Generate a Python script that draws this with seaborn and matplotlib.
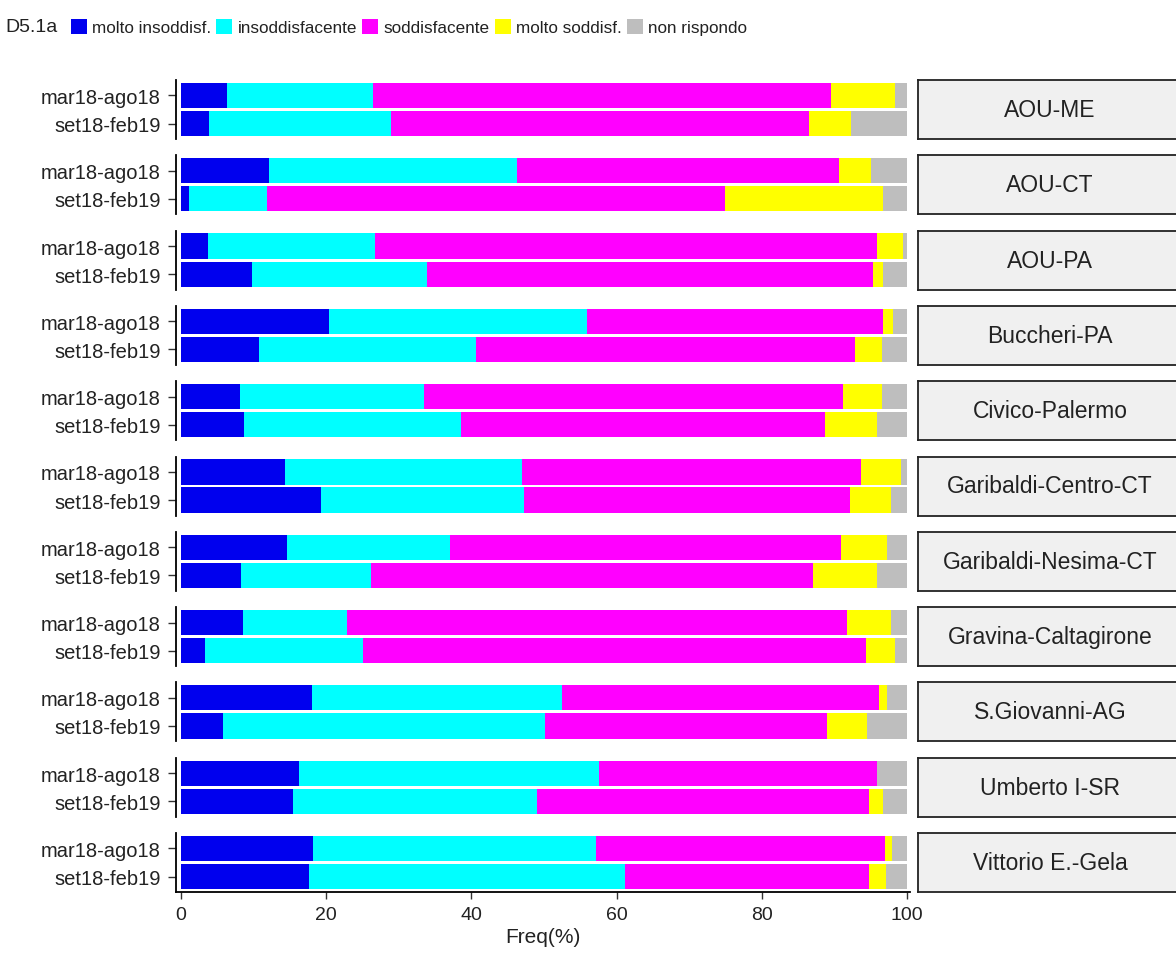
import numpy as np
import pandas as pd
import matplotlib
matplotlib.use('Agg')
import matplotlib.pyplot as plt
from matplotlib.patches import Patch
import seaborn as sns

################################################################################
# data (percent per answer, per hospital and period)

hospitals = ['AOU-ME', 'AOU-CT', 'AOU-PA', 'Buccheri-PA', 'Civico-Palermo',
             'Garibaldi-Centro-CT', 'Garibaldi-Nesima-CT', 'Gravina-Caltagirone',
             'S.Giovanni-AG', 'Umberto I-SR', 'Vittorio E.-Gela']
periods = ['mar18-ago18', 'set18-feb19']
categories = ['molto insoddisf.', 'insoddisfacente', 'soddisfacente',
              'molto soddisf.', 'non rispondo']
colors = ['#0000EE', '#00FFFF', '#FF00FF', '#FFFF00', '#BEBEBE']

molto_insoddisf_mar = [6.3, 12.1, 3.7, 20.4, 8.1, 14.3, 14.6, 8.5, 18.0, 16.3, 18.2]
molto_insoddisf_set = [3.9, 1.1, 9.7, 10.8, 8.6, 19.3, 8.3, 3.3, 5.8, 15.4, 17.6]
insoddisfacente_mar = [20.1, 34.2, 23.0, 35.5, 25.3, 32.6, 22.5, 14.3, 34.5, 41.3, 38.9]
insoddisfacente_set = [25.0, 10.8, 24.2, 29.8, 30.0, 28.0, 17.9, 21.8, 44.3, 33.6, 43.6]
soddisfacente_mar = [63.1, 44.3, 69.2, 40.8, 57.8, 46.7, 53.8, 68.9, 43.6, 38.3, 39.9]
soddisfacente_set = [57.6, 63.0, 61.4, 52.2, 50.1, 44.9, 60.8, 69.3, 38.8, 45.8, 33.6]
molto_soddisf_mar = [8.9, 4.4, 3.5, 1.4, 5.3, 5.5, 6.3, 6.1, 1.1, 0.0, 0.9]
molto_soddisf_set = [5.8, 21.8, 1.4, 3.7, 7.2, 5.6, 8.9, 4.0, 5.6, 1.9, 2.3]
non_rispondo_mar = [1.6, 5.0, 0.6, 1.9, 3.5, 0.9, 2.8, 2.2, 2.8, 4.1, 2.1]
non_rispondo_set = [7.7, 3.3, 3.3, 3.5, 4.1, 2.2, 4.1, 1.6, 5.5, 3.3, 2.9]

################################################################################

def build_frame() -> pd.DataFrame:
    '''
    Long table: one row per hospital, period and answer, with the
    cumulative end of each stacked segment.
    '''
    by_cat = {
        'molto insoddisf.': (molto_insoddisf_mar, molto_insoddisf_set),
        'insoddisfacente': (insoddisfacente_mar, insoddisfacente_set),
        'soddisfacente': (soddisfacente_mar, soddisfacente_set),
        'molto soddisf.': (molto_soddisf_mar, molto_soddisf_set),
        'non rispondo': (non_rispondo_mar, non_rispondo_set),
    }
    rows = []
    for h_idx, hosp in enumerate(hospitals):
        for p_idx, period in enumerate(periods):
            total = 0.0
            for cat in categories:
                val = by_cat[cat][p_idx][h_idx]
                total += val
                rows.append({'hospital': hosp, 'period': period,
                             'category': cat, 'freq': val, 'cum': total})
    return pd.DataFrame(rows)

df = build_frame()

sns.set_theme(style='white')
plt.rcParams['font.family'] = ['Liberation Sans', 'DejaVu Sans']

W, H = 1176, 954
fig = plt.figure(figsize=(W / 100, H / 100), dpi=100)

left_px, right_px = 176, 910
top_px, panel_h, step = 81, 59, 75.3
text_col = '#222222'

for i, hosp in enumerate(hospitals):
    y0 = top_px + i * step
    ax = fig.add_axes([left_px / W, 1 - (y0 + panel_h) / H,
                       (right_px - left_px) / W, panel_h / H])
    sub = df[df['hospital'] == hosp]

    # draw cumulative ends from the last answer back to the first
    for cat, col in reversed(list(zip(categories, colors))):
        part = sub[sub['category'] == cat]
        sns.barplot(data=part, x='cum', y='period', order=periods,
                    orient='h', color=col, saturation=1, width=0.9,
                    errorbar=None, linewidth=0, ax=ax)

    ax.set_xlim(-0.7, 100.4)
    ax.set_ylim(1.55, -0.55)
    ax.set_ylabel('')
    ax.set_xlabel('')
    ax.set_facecolor('white')
    for side in ['top', 'right', 'bottom']:
        ax.spines[side].set_visible(False)
    ax.spines['left'].set_color('black')
    ax.spines['left'].set_linewidth(1.3)
    ax.tick_params(axis='y', left=True, length=6, width=1, color='#333333',
                   labelsize=14.5, labelcolor=text_col, pad=5)

    if i == len(hospitals) - 1:
        ax.spines['bottom'].set_visible(True)
        ax.spines['bottom'].set_color('black')
        ax.spines['bottom'].set_linewidth(1.3)
        ax.set_xticks([0, 20, 40, 60, 80, 100])
        ax.tick_params(axis='x', bottom=True, length=5, width=1,
                       color='#333333', labelsize=14, labelcolor=text_col,
                       pad=5)
        ax.set_xlabel('Freq(%)', fontsize=15, color=text_col, labelpad=3)
    else:
        ax.set_xticks([])

    # facet strip on the right
    sax = fig.add_axes([918 / W, 1 - (y0 + panel_h) / H, 264 / W, panel_h / H])
    sax.set_facecolor('#F0F0F0')
    sax.set_xticks([])
    sax.set_yticks([])
    for side in sax.spines.values():
        side.set_color('#222222')
        side.set_linewidth(1.3)
    sax.text(0.5, 0.5, hosp, ha='center', va='center', fontsize=16.5,
             color=text_col, transform=sax.transAxes)

# legend across the top
fig.text(5 / W, 1 - 28 / H, 'D5.1a', ha='left', va='center', fontsize=14,
         color=text_col)
handles = [Patch(facecolor=c, edgecolor='none') for c in colors]
fig.legend(handles, categories, loc='center left',
           bbox_to_anchor=(62 / W, 1 - 28 / H), ncol=5, frameon=False,
           fontsize=12.3, handlelength=0.95, handleheight=0.95,
           handletextpad=0.3, columnspacing=0.3, borderpad=0,
           labelcolor=text_col)

fig.savefig('out.png', dpi=100)
